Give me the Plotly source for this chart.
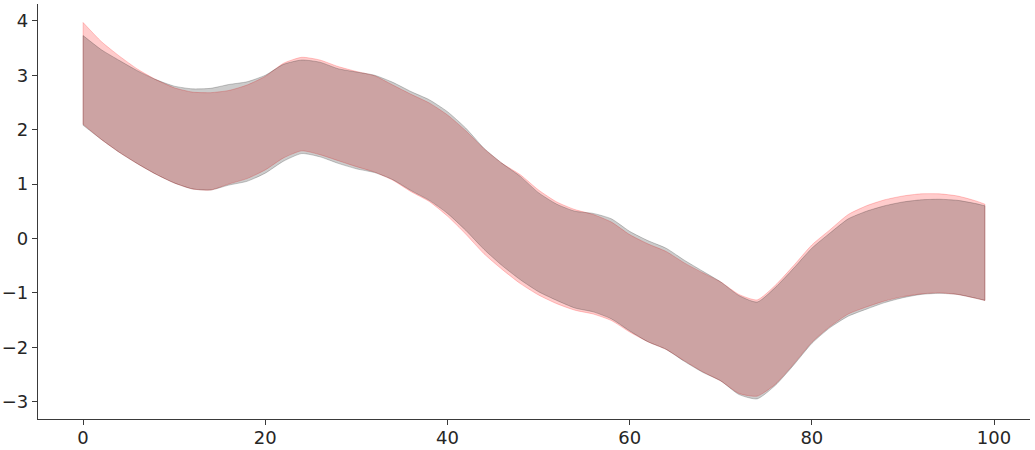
import plotly.graph_objects as go

x = [0, 2, 4, 6, 8, 10, 12, 14, 16, 18, 20, 22, 24, 26, 28, 30, 32, 34, 36, 38,
     40, 42, 44, 46, 48, 50, 52, 54, 56, 58, 60, 62, 64, 66, 68, 70, 72, 74, 76, 78,
     80, 82, 84, 86, 88, 90, 92, 94, 96, 98, 99]

gray_upper = [3.73, 3.47, 3.27, 3.08, 2.92, 2.80, 2.75, 2.76, 2.83, 2.88, 3.00, 3.20, 3.28, 3.24, 3.12,
              3.06, 3.00, 2.87, 2.70, 2.55, 2.33, 2.03, 1.66, 1.38, 1.14, 0.84, 0.63, 0.50, 0.46, 0.36,
              0.13, -0.04, -0.18, -0.40, -0.60, -0.80, -1.05, -1.17, -0.90, -0.55, -0.18, 0.10, 0.36,
              0.50, 0.60, 0.67, 0.71, 0.72, 0.70, 0.64, 0.60]
gray_lower = [2.08, 1.82, 1.58, 1.37, 1.18, 1.02, 0.91, 0.89, 0.98, 1.05, 1.20, 1.42, 1.56, 1.50, 1.38,
              1.28, 1.21, 1.08, 0.88, 0.70, 0.46, 0.15, -0.20, -0.50, -0.76, -0.98, -1.14, -1.28, -1.35,
              -1.48, -1.70, -1.90, -2.04, -2.26, -2.46, -2.62, -2.87, -2.95, -2.70, -2.33, -1.93, -1.64,
              -1.43, -1.30, -1.18, -1.09, -1.03, -1.01, -1.03, -1.10, -1.14]
red_upper = [3.97, 3.62, 3.35, 3.11, 2.92, 2.77, 2.69, 2.68, 2.72, 2.82, 2.98, 3.22, 3.33, 3.28, 3.16,
             3.07, 2.99, 2.82, 2.65, 2.49, 2.27, 1.98, 1.65, 1.38, 1.17, 0.89, 0.67, 0.53, 0.44, 0.30,
             0.07, -0.10, -0.24, -0.45, -0.63, -0.80, -1.03, -1.13, -0.86, -0.50, -0.12, 0.16, 0.44,
             0.60, 0.71, 0.78, 0.82, 0.82, 0.78, 0.69, 0.63]
red_lower = [2.10, 1.82, 1.58, 1.37, 1.18, 1.02, 0.91, 0.89, 1.00, 1.10, 1.26, 1.48, 1.61, 1.54, 1.43,
             1.32, 1.22, 1.07, 0.86, 0.68, 0.41, 0.08, -0.28, -0.57, -0.83, -1.04, -1.20, -1.32, -1.39,
             -1.51, -1.72, -1.90, -2.04, -2.25, -2.45, -2.62, -2.85, -2.90, -2.68, -2.31, -1.91, -1.62,
             -1.39, -1.26, -1.15, -1.07, -1.02, -1.00, -1.03, -1.10, -1.14]

x_ticks = [0, 20, 40, 60, 80, 100]
y_ticks = [-3, -2, -1, 0, 1, 2, 3, 4]


def band(fig, upper, lower, fill, line):
    ln = dict(color=line, width=1, shape="spline", smoothing=0.6)
    fig.add_trace(go.Scatter(x=x, y=lower, mode="lines", line=ln, fill="none",
                             hoverinfo="skip", showlegend=False))
    fig.add_trace(go.Scatter(x=x, y=upper, mode="lines", line=ln, fill="tonexty",
                             fillcolor=fill, hoverinfo="skip", showlegend=False))
    # vertical end edges of the band
    for i in (0, -1):
        fig.add_trace(go.Scatter(x=[x[i], x[i]], y=[lower[i], upper[i]], mode="lines",
                                 line=dict(color=line, width=1), hoverinfo="skip",
                                 showlegend=False))


fig = go.Figure()
band(fig, red_upper, red_lower, "rgba(255,0,0,0.2)", "rgba(255,0,0,0.2)")
band(fig, gray_upper, gray_lower, "rgba(0,0,0,0.2)", "rgba(0,0,0,0.2)")

axis_common = dict(showgrid=False, zeroline=False, showline=True, linecolor="#3a3a3a", linewidth=1.25,
                   ticks="outside", ticklen=5, tickwidth=1.25, tickcolor="#3a3a3a", automargin=False,
                   tickfont=dict(family="DejaVu Sans", size=18, color="#262626"), mirror=False)

fig.update_layout(
    width=1035, height=450,
    margin=dict(l=38, r=5, t=4, b=31),
    paper_bgcolor="white", plot_bgcolor="white",
    hovermode=False,
    xaxis=dict(range=[-4.95, 103.95], tickvals=x_ticks, ticklabelstandoff=-3, **axis_common),
    yaxis=dict(range=[-3.32, 4.31], tickvals=y_ticks, **axis_common),
)

fig.write_html("out.html", config={"displayModeBar": False},
               post_script="document.body.style.margin='0';")
